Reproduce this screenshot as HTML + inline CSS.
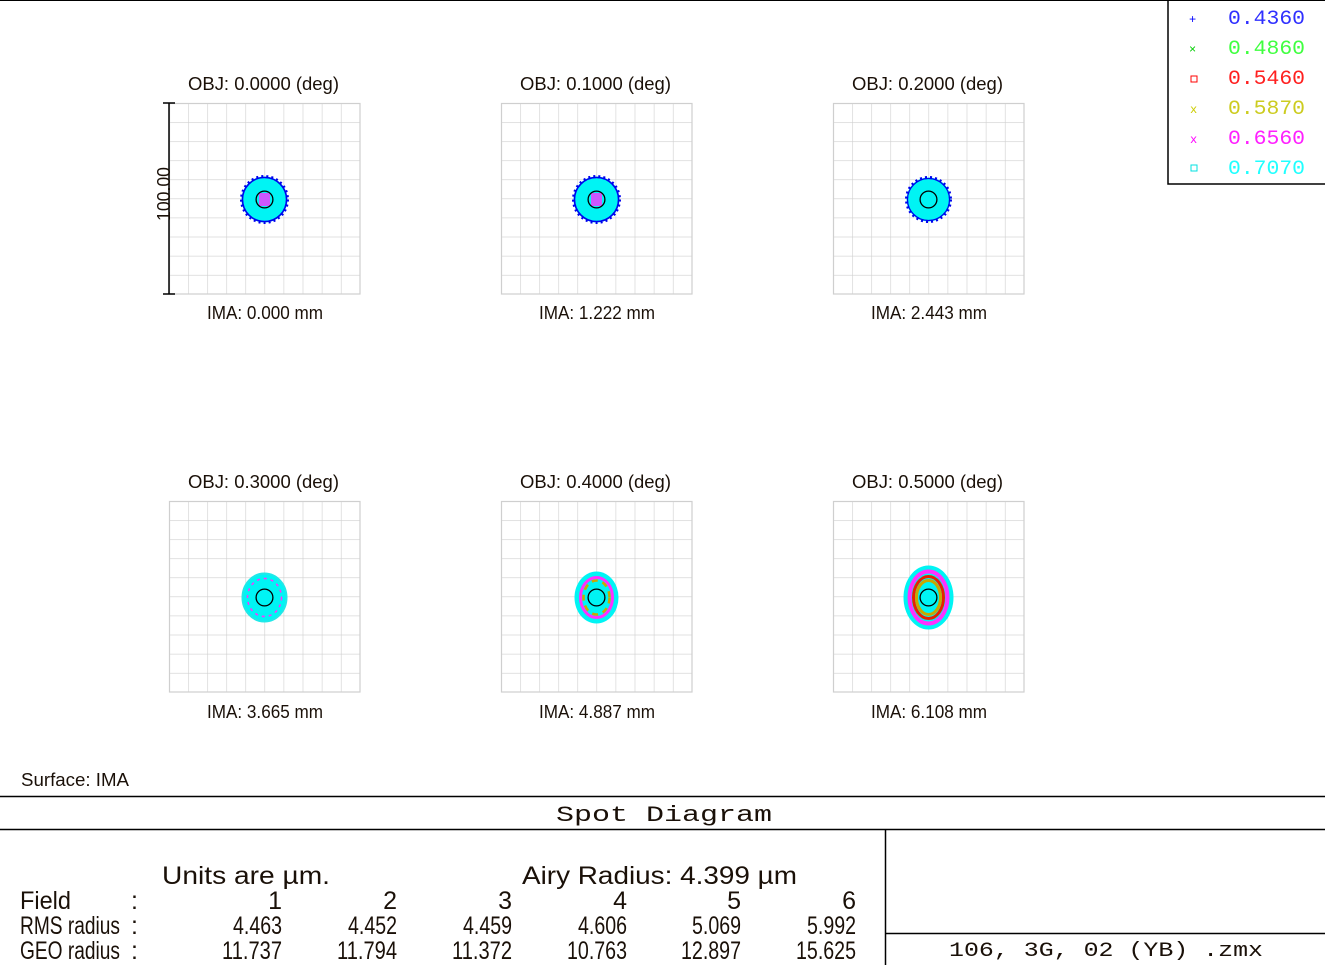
<!DOCTYPE html>
<html><head><meta charset="utf-8"><style>
html,body{margin:0;padding:0;background:#fff;}
svg{display:block;}
text{font-family:"Liberation Sans",sans-serif;fill:#1a1008;}
.t{font-size:18px;}
.m, .m text, text.m{font-family:"Liberation Mono",monospace;}
</style></head><body>
<svg width="1325" height="965" viewBox="0 0 1325 965" xmlns="http://www.w3.org/2000/svg">
<defs>
<pattern id="g" patternUnits="userSpaceOnUse" x="0" y="0" width="19.1" height="19.1">
<path d="M0 0H19.1M0 0V19.1" stroke="#cfcfcf" stroke-width="1.2" fill="none"/>
</pattern>
<g id="box">
<rect x="0" y="0" width="191" height="191" fill="url(#g)"/>
<rect x="0.5" y="0.5" width="190.5" height="190.5" fill="none" stroke="#cfcfcf" stroke-width="1.2"/>
</g>
</defs>
<rect width="1325" height="965" fill="#fff"/>
<line x1="0" y1="0.5" x2="1325" y2="0.5" stroke="#000"/>
<!-- legend -->
<path d="M1168 0V184H1325" stroke="#000" fill="none" stroke-width="1.5"/>
<g class="m" font-size="20">
<text x="1228" y="24" textLength="77" lengthAdjust="spacingAndGlyphs" style="fill:#3030ff">0.4360</text>
<text x="1228" y="54" textLength="77" lengthAdjust="spacingAndGlyphs" style="fill:#40ff40">0.4860</text>
<text x="1228" y="84" textLength="77" lengthAdjust="spacingAndGlyphs" style="fill:#ff2020">0.5460</text>
<text x="1228" y="114" textLength="77" lengthAdjust="spacingAndGlyphs" style="fill:#cccc20">0.5870</text>
<text x="1228" y="144" textLength="77" lengthAdjust="spacingAndGlyphs" style="fill:#ff20ff">0.6560</text>
<text x="1228" y="174" textLength="77" lengthAdjust="spacingAndGlyphs" style="fill:#20ffff">0.7070</text>
</g>
<g font-size="12" class="m">
<text x="1189" y="23" style="fill:#0000ff">+</text>
<text x="1189" y="53" style="fill:#00cc00">×</text>
<rect x="1191" y="76" width="6" height="6" fill="none" stroke="#ff0000"/>
<text x="1190" y="113" style="fill:#cccc00">x</text>
<text x="1190" y="143" style="fill:#ff00ff">x</text>
<rect x="1191" y="165" width="6" height="6" fill="none" stroke="#00e0e0"/>
</g>
<!-- boxes -->
<use href="#box" x="169" y="103"/><use href="#box" x="501" y="103"/><use href="#box" x="833" y="103"/>
<use href="#box" x="169" y="501"/><use href="#box" x="501" y="501"/><use href="#box" x="833" y="501"/>
<!-- scale bar -->
<path d="M163 103H175M169 103V294M163 294H175" stroke="#000" stroke-width="1.5" fill="none"/>
<text class="t" transform="translate(170,221) rotate(-90)" textLength="54" lengthAdjust="spacingAndGlyphs">100.00</text>
<!-- titles -->
<g class="t">
<text x="188" y="90" textLength="151" lengthAdjust="spacingAndGlyphs">OBJ: 0.0000 (deg)</text>
<text x="520" y="90" textLength="151" lengthAdjust="spacingAndGlyphs">OBJ: 0.1000 (deg)</text>
<text x="852" y="90" textLength="151" lengthAdjust="spacingAndGlyphs">OBJ: 0.2000 (deg)</text>
<text x="188" y="488" textLength="151" lengthAdjust="spacingAndGlyphs">OBJ: 0.3000 (deg)</text>
<text x="520" y="488" textLength="151" lengthAdjust="spacingAndGlyphs">OBJ: 0.4000 (deg)</text>
<text x="852" y="488" textLength="151" lengthAdjust="spacingAndGlyphs">OBJ: 0.5000 (deg)</text>
<text x="207" y="319" textLength="116" lengthAdjust="spacingAndGlyphs">IMA: 0.000 mm</text>
<text x="539" y="319" textLength="116" lengthAdjust="spacingAndGlyphs">IMA: 1.222 mm</text>
<text x="871" y="319" textLength="116" lengthAdjust="spacingAndGlyphs">IMA: 2.443 mm</text>
<text x="207" y="718" textLength="116" lengthAdjust="spacingAndGlyphs">IMA: 3.665 mm</text>
<text x="539" y="718" textLength="116" lengthAdjust="spacingAndGlyphs">IMA: 4.887 mm</text>
<text x="871" y="718" textLength="116" lengthAdjust="spacingAndGlyphs">IMA: 6.108 mm</text>
<text x="21" y="786" textLength="108" lengthAdjust="spacingAndGlyphs">Surface: IMA</text>
</g>
<!-- spots top -->
<g>
<circle cx="264.5" cy="199.5" r="23" fill="#00f4f4" stroke="#0000ee" stroke-width="3" stroke-dasharray="2 3"/>
<circle cx="264.5" cy="199.5" r="22" fill="none" stroke="#0000ee" stroke-width="1.5"/>
<rect x="259" y="193" width="11" height="13" fill="#ff30ff" opacity="0.8"/>
<circle cx="264.5" cy="199.5" r="8.4" fill="none" stroke="#000" stroke-width="1.3"/>

<circle cx="596.5" cy="199.5" r="23" fill="#00f4f4" stroke="#0000ee" stroke-width="3" stroke-dasharray="2 3"/>
<circle cx="596.5" cy="199.5" r="22" fill="none" stroke="#0000ee" stroke-width="1.5"/>
<rect x="591" y="193" width="11" height="13" fill="#ff30ff" opacity="0.8"/>
<circle cx="596.5" cy="199.5" r="8.4" fill="none" stroke="#000" stroke-width="1.3"/>

<circle cx="928.5" cy="199.5" r="22" fill="#00f4f4" stroke="#0000ee" stroke-width="3" stroke-dasharray="2 3"/>
<circle cx="928.5" cy="199.5" r="21" fill="none" stroke="#0000ee" stroke-width="1.2"/>
<circle cx="928.5" cy="199.5" r="8.4" fill="none" stroke="#000" stroke-width="1.3"/>
</g>
<!-- spots bottom -->
<g>
<ellipse cx="264.5" cy="597.5" rx="22" ry="24" fill="#00f4f4" stroke="#20e8e8" stroke-width="2"/>
<ellipse cx="264.5" cy="597.5" rx="17" ry="19" fill="none" stroke="#ff30ff" stroke-width="1.5" stroke-dasharray="3 4"/>
<circle cx="264.5" cy="597.5" r="8.4" fill="none" stroke="#000" stroke-width="1.3"/>

<ellipse cx="596.5" cy="597.5" rx="22" ry="26" fill="#00f4f4"/>
<ellipse cx="596.5" cy="597.5" rx="16" ry="20" fill="none" stroke="#ff30ff" stroke-width="3"/>
<ellipse cx="596.5" cy="597.5" rx="13" ry="17" fill="none" stroke="#c8a800" stroke-width="2.5" stroke-dasharray="6 5"/>
<circle cx="596.5" cy="597.5" r="8.4" fill="none" stroke="#000" stroke-width="1.3"/>

<ellipse cx="928.5" cy="597.5" rx="25" ry="32" fill="#00f4f4"/>
<ellipse cx="928.5" cy="597.5" rx="19" ry="26" fill="none" stroke="#ff30ff" stroke-width="4"/>
<ellipse cx="928.5" cy="597.5" rx="15" ry="21" fill="none" stroke="#e82000" stroke-width="3"/>
<ellipse cx="928.5" cy="597.5" rx="12" ry="17" fill="none" stroke="#c8a800" stroke-width="3"/>
<circle cx="928.5" cy="597.5" r="8.4" fill="none" stroke="#000" stroke-width="1.3"/>
</g>
<!-- bottom table -->
<line x1="0" y1="796.5" x2="1325" y2="796.5" stroke="#000" stroke-width="1.5"/>
<line x1="0" y1="829.5" x2="1325" y2="829.5" stroke="#000" stroke-width="1.5"/>
<line x1="885.5" y1="829" x2="885.5" y2="965" stroke="#000" stroke-width="1.5"/>
<line x1="885" y1="933.5" x2="1325" y2="933.5" stroke="#000" stroke-width="1.5"/>
<text class="m" x="556" y="821" font-size="22" textLength="216" lengthAdjust="spacingAndGlyphs">Spot Diagram</text>
<text class="m" x="949" y="956" font-size="20" textLength="314" lengthAdjust="spacingAndGlyphs">106, 3G, 02 (YB) .zmx</text>
<g font-size="25">
<text x="162" y="884" textLength="168" lengthAdjust="spacingAndGlyphs">Units are µm.</text>
<text x="522" y="884" textLength="275" lengthAdjust="spacingAndGlyphs">Airy Radius: 4.399 µm</text>
<text x="20" y="909" textLength="51" lengthAdjust="spacingAndGlyphs">Field</text>
<text x="131" y="909">:</text>
<text x="20" y="934" textLength="100" lengthAdjust="spacingAndGlyphs">RMS radius</text>
<text x="131" y="934">:</text>
<text x="20" y="959" textLength="100" lengthAdjust="spacingAndGlyphs">GEO radius</text>
<text x="131" y="959">:</text>
</g>
<g font-size="25" text-anchor="end">
<text x="282" y="909">1</text><text x="397" y="909">2</text><text x="512" y="909">3</text><text x="627" y="909">4</text><text x="741" y="909">5</text><text x="856" y="909">6</text>
<text x="282" y="934" textLength="49" lengthAdjust="spacingAndGlyphs">4.463</text>
<text x="397" y="934" textLength="49" lengthAdjust="spacingAndGlyphs">4.452</text>
<text x="512" y="934" textLength="49" lengthAdjust="spacingAndGlyphs">4.459</text>
<text x="627" y="934" textLength="49" lengthAdjust="spacingAndGlyphs">4.606</text>
<text x="741" y="934" textLength="49" lengthAdjust="spacingAndGlyphs">5.069</text>
<text x="856" y="934" textLength="49" lengthAdjust="spacingAndGlyphs">5.992</text>
<text x="282" y="959" textLength="60" lengthAdjust="spacingAndGlyphs">11.737</text>
<text x="397" y="959" textLength="60" lengthAdjust="spacingAndGlyphs">11.794</text>
<text x="512" y="959" textLength="60" lengthAdjust="spacingAndGlyphs">11.372</text>
<text x="627" y="959" textLength="60" lengthAdjust="spacingAndGlyphs">10.763</text>
<text x="741" y="959" textLength="60" lengthAdjust="spacingAndGlyphs">12.897</text>
<text x="856" y="959" textLength="60" lengthAdjust="spacingAndGlyphs">15.625</text>
</g>
</svg>
</body></html>
